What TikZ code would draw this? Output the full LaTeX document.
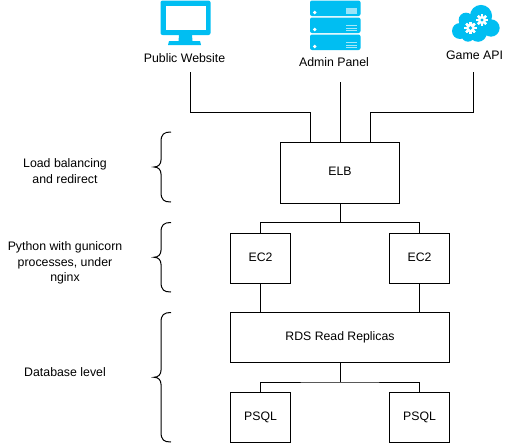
\documentclass[tikz,border=0pt]{standalone}
\usepackage{fontspec}
\setmainfont{Liberation Sans}
\definecolor{iconblue}{HTML}{00BEF2}
\tikzset{
  x=0.75pt,y=-0.75pt,
  box/.style={draw=black,line width=0.75pt,fill=white,inner sep=0pt,text height=6.6pt,text depth=1.5pt,font=\fontsize{9.2}{11}\selectfont},
  lab/.style={inner sep=0pt,align=center,font=\fontsize{9.25}{11.6}\selectfont},
  wire/.style={draw=black,line width=0.75pt},
  brace/.style={draw=black,line width=0.75pt}
}
\newcommand{\gear}[3]{% x y radius
  \fill[white] (#1,#2) circle[radius=#3*0.75pt];
  \foreach \a in {0,45,...,315}{
    \fill[white,shift={(#1,#2)},rotate=\a] (-#3*0.27,-#3*1.4) rectangle (#3*0.27,#3*1.4);
  }
  \fill[iconblue] (#1,#2) circle[radius=#3*0.42*0.75pt];
}
\newcommand{\bracepath}[3]{% x-right-start, ytop, ybottom
  \pgfmathsetmacro{\ymid}{(#2+#3)/2}
  \draw[brace] (171,#2) .. controls (164,#2) and (161,#2+2) .. (161,#2+10)
    -- (161,\ymid-7) .. controls (161,\ymid-3) and (158.5,\ymid) .. (154,\ymid)
    .. controls (158.5,\ymid) and (161,\ymid+3) .. (161,\ymid+7)
    -- (161,#3-10) .. controls (161,#3-2) and (164,#3) .. (171,#3);
}
\begin{document}
\begin{tikzpicture}
\useasboundingbox (0,0) rectangle (505,446);
% boxes
\node[box,minimum width=89.25pt,minimum height=45.75pt] (elb) at (340,172.5) {ELB};
\node[box,minimum width=45pt,minimum height=37.5pt] (ec1) at (260.5,258) {EC2};
\node[box,minimum width=45pt,minimum height=37.5pt] (ec2) at (419.5,258) {EC2};
\node[box,minimum width=164.25pt,minimum height=37.5pt] (rds) at (340,337.5) {RDS Read Replicas};
\node[box,minimum width=45pt,minimum height=37.5pt] (pg1) at (260.5,417) {PSQL};
\node[box,minimum width=45pt,minimum height=37.5pt] (pg2) at (419.5,417) {PSQL};
% labels
\node[lab] (web) at (184.5,58) {Public Website};
\node[lab] (adm) at (334,62.5) {Admin Panel};
\node[lab] (api) at (474.5,55) {Game API};
\node[lab] (l1) at (65,171) {Load balancing\\and redirect};
\node[lab] (l2) at (65,263) {Python with gunicorn\\processes, under\\nginx};
\node[lab] (l3) at (65,372) {Database level};
% free ends
\coordinate (w0) at (190,72);
\coordinate (a0) at (340,82);
\coordinate (g0) at (473,72);
\coordinate (eb) at (340,222.5);
\coordinate (rb) at (340,382);
% connectors
\draw[wire] (w0) |- (310,112.5) -- (310,142);
\draw[wire] (a0) -- (elb.north);
\draw[wire] (g0) |- (370,112.5) -- (370,142);
\draw[wire] (elb.south) -- (eb);
\draw[wire] (ec1.north) |- (eb) -| (ec2.north);
\draw[wire] (ec1.south) -- (ec1.south |- rds.north);
\draw[wire] (ec2.south) -- (ec2.south |- rds.north);
\draw[wire] (rds.south) -- (rb);
\draw[wire] (pg1.north) |- (rb) -| (pg2.north);
% braces
\bracepath{171}{132}{202}
\bracepath{171}{222.5}{292}
\bracepath{171}{312.5}{442}
% monitor icon
\fill[iconblue,rounded corners=1.5pt] (160.5,0.5) rectangle (210.5,35);
\fill[white] (165.5,6) rectangle (205.5,30);
\fill[iconblue] (179,35) -- (192,35) -- (192.5,41) -- (200,41) -- (201,45) -- (168,45) -- (169,41) -- (178.5,41) -- cycle;
% server icon
\foreach \yy in {0.5,17.5,34.5}{
  \fill[iconblue,rounded corners=1.5pt] (310,\yy) rectangle (360.5,\yy+15.5);
  \fill[white] (314.7,\yy+12) circle[radius=1.35pt];
}
\fill[white,opacity=.6] (346,7.5) rectangle (357,13.5);
\foreach \yy in {25,27.5,30,42,44.5,47}{
  \fill[white,opacity=.65] (346,\yy) rectangle (357,\yy+1.3);
}
% cloud icon
\fill[iconblue] (460,31) circle[radius=6pt]
  (466,20) circle[radius=5.5pt]
  (481,16) circle[radius=8.3pt]
  (491,28) circle[radius=6.5pt]
  (478,33) circle[radius=6.6pt]
  (468,35) circle[radius=5pt];
\gear{470.5}{28}{4.4}
\gear{482}{20}{4.1}
\end{tikzpicture}
\end{document}
